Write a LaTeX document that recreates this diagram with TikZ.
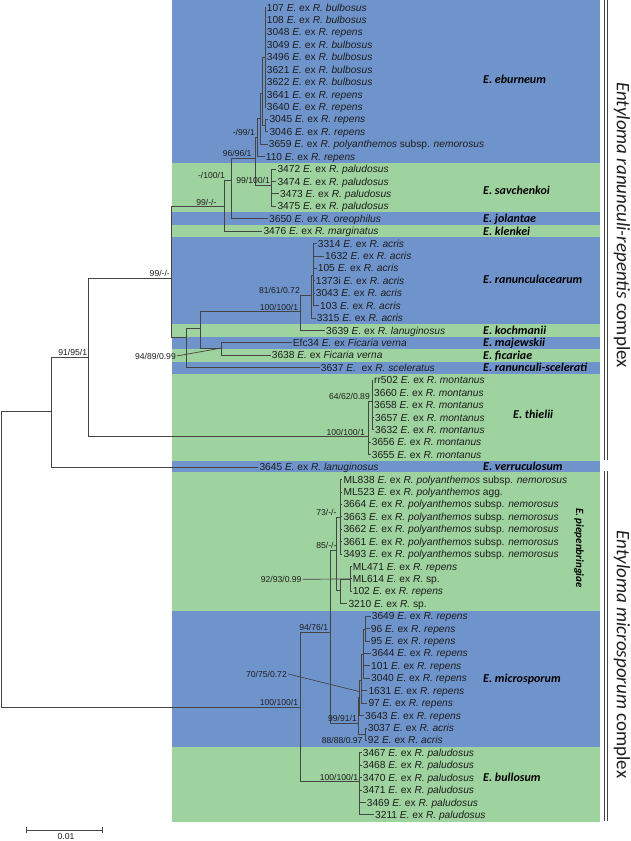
\documentclass[tikz,border=0pt]{standalone}
\usepackage{fontspec}
\setmainfont{Liberation Sans}
\newfontfamily\calib{Carlito}
\definecolor{bandblue}{HTML}{6F94CC}
\definecolor{bandgreen}{HTML}{9ED29E}
\definecolor{treeline}{HTML}{454545}
\definecolor{txt}{HTML}{1E1E1E}
\newcommand\rowy[1]{7.5+12.42*#1}
\newcommand\Rn[2]{#1 \textit{E.} ex \textit{R. #2}}
\newcommand\Pn[1]{#1 \textit{E.} ex \textit{R. polyanthemos} subsp. \textit{nemorosus}}
\newcommand\lf[5]{\node[leaf] (#1) at ({#4-1.5},{\rowy{#3}}) {#5};\draw[br] (#2 |- #1) -- (#1.west);}
\newcommand\hbr[2]{\draw[br] (#1 |- #2) -- (#2);}
\newcommand\vbr[3]{\draw[br] (#1 |- #2) -- (#1 |- #3);}
\begin{document}
\begin{tikzpicture}[x=1pt,y=-1pt,
  br/.style={draw=treeline,line width=0.7pt,line cap=rect},
  leaf/.style={anchor=west,inner sep=1.5pt,font=\fontsize{10.2}{11}\selectfont,text=txt,text height=7.8pt,text depth=0.5pt},
  sup/.style={anchor=base east,inner sep=0pt,font=\fontsize{8.6}{10}\selectfont,text=txt},
  clade/.style={anchor=west,inner sep=0pt,font=\calib\bfseries\itshape\fontsize{12}{14}\selectfont,text height=7.8pt,text depth=0pt},
  cplx/.style={rotate=-90,inner sep=0pt,font=\calib\fontsize{19}{22}\selectfont,text=txt}]
\useasboundingbox (0,0) rectangle (630,841);
\fill[white] (0,0) rectangle (630,841);
% bands
\fill[bandblue]  (172,0) rectangle (599.5,162.75);
\fill[bandgreen] (172,162.75) rectangle (599.5,212.4);
\fill[bandblue]  (172,212.4) rectangle (599.5,224.8);
\fill[bandgreen] (172,224.8) rectangle (599.5,237.3);
\fill[bandblue]  (172,237.3) rectangle (599.5,324.2);
\fill[bandgreen] (172,324.2) rectangle (599.5,336.6);
\fill[bandblue]  (172,336.6) rectangle (599.5,349);
\fill[bandgreen] (172,349) rectangle (599.5,361.5);
\fill[bandblue]  (172,361.5) rectangle (599.5,373.9);
\fill[bandgreen] (172,373.9) rectangle (599.5,460.8);
\fill[bandblue]  (172,460.8) rectangle (599.5,471.5);
\fill[bandgreen] (172,471.5) rectangle (599.5,611);
\fill[bandblue]  (172,611) rectangle (599.5,746.5);
\fill[bandgreen] (172,746.5) rectangle (599.5,821.5);
% internal nodes
\coordinate (E1) at (265,57.2);
\coordinate (E5) at (265.5,125.5);
\coordinate (E2) at (262,93.3);
\coordinate (E3) at (260,118.7);
\coordinate (B) at (257.3,137);
\coordinate (S) at (271.7,185);
\coordinate (A) at (255,158);
\coordinate (C) at (231.7,180);
\coordinate (D) at (224.3,206.7);
\coordinate (RB) at (313.5,275);
\coordinate (RA) at (311.7,295);
\coordinate (RN) at (300,311.7);
\coordinate (FI) at (221.7,348);
\coordinate (K) at (200.7,328.3);
\coordinate (L) at (186.7,337.3);
\coordinate (Z) at (171.7,278.3);
\coordinate (TI) at (372.3,401);
\coordinate (TH) at (368,436.7);
\coordinate (Y) at (88.3,357.3);
\coordinate (X) at (51.7,411);
\coordinate (O) at (1,559);
\coordinate (U) at (350,579);
\coordinate (T) at (340,590);
\coordinate (PR) at (340,517);
\coordinate (Q) at (336.7,550);
\coordinate (M4) at (365.5,629);
\coordinate (M3) at (363,654);
\coordinate (M2) at (361,680);
\coordinate (M1) at (359.5,697);
\coordinate (N) at (365,734.6);
\coordinate (M) at (358.3,723);
\coordinate (P) at (330.7,632.3);
\coordinate (W) at (359.3,781.7);
\coordinate (MC) at (300,707.3);
% leaves
\lf{l0}{E1}{0}{266.7}{\Rn{107}{bulbosus}}
\lf{l1}{E1}{1}{266.7}{\Rn{108}{bulbosus}}
\lf{l2}{E1}{2}{266.7}{\Rn{3048}{repens}}
\lf{l3}{E1}{3}{266.7}{\Rn{3049}{bulbosus}}
\lf{l4}{E1}{4}{266.7}{\Rn{3496}{bulbosus}}
\lf{l5}{E1}{5}{266.7}{\Rn{3621}{bulbosus}}
\lf{l6}{E1}{6}{266.7}{\Rn{3622}{bulbosus}}
\lf{l7}{E1}{7}{266.7}{\Rn{3641}{repens}}
\lf{l8}{E1}{8}{266.7}{\Rn{3640}{repens}}
\lf{l9}{E5}{9}{269.3}{\Rn{3045}{repens}}
\lf{l10}{E5}{10}{269.3}{\Rn{3046}{repens}}
\lf{l11}{E3}{11}{268.7}{\Pn{3659}}
\lf{l12}{B}{12}{265.7}{\Rn{110}{repens}}
\lf{l13}{S}{13}{277.3}{\Rn{3472}{paludosus}}
\lf{l14}{S}{14}{277.3}{\Rn{3474}{paludosus}}
\lf{l15}{S}{15}{280}{\Rn{3473}{paludosus}}
\lf{l16}{S}{16}{277.3}{\Rn{3475}{paludosus}}
\lf{l17}{C}{17}{269}{\Rn{3650}{oreophilus}}
\lf{l18}{D}{18}{263.3}{\Rn{3476}{marginatus}}
\lf{l19}{RB}{19}{317.7}{\Rn{3314}{acris}}
\lf{l20}{RB}{20}{325}{\Rn{1632}{acris}}
\lf{l21}{RB}{21}{317.7}{\Rn{105}{acris}}
\lf{l22}{RB}{22}{315.7}{\Rn{1373i}{acris}}
\lf{l23}{RB}{23}{315.7}{\Rn{3043}{acris}}
\lf{l24}{RB}{24}{320}{\Rn{103}{acris}}
\lf{l25}{RA}{25}{316.7}{\Rn{3315}{acris}}
\lf{l26}{RN}{26}{326}{\Rn{3639}{lanuginosus}}
\lf{l27}{FI}{27}{292.7}{Efc34 \textit{E.} ex \textit{Ficaria verna}}
\lf{l28}{FI}{28}{271.7}{3638 \textit{E.} ex \textit{Ficaria verna}}
\lf{l29}{L}{29}{320.7}{3637 \textit{E.}\ \ ex \textit{R. sceleratus}}
\lf{l30}{TI}{30}{374}{\Rn{rr502}{montanus}}
\lf{l31}{TI}{31}{374}{\Rn{3660}{montanus}}
\lf{l32}{TI}{32}{374}{\Rn{3658}{montanus}}
\lf{l33}{TI}{33}{375}{\Rn{3657}{montanus}}
\lf{l34}{TI}{34}{375}{\Rn{3632}{montanus}}
\lf{l35}{TH}{35}{371.7}{\Rn{3656}{montanus}}
\lf{l36}{TH}{36}{371.7}{\Rn{3655}{montanus}}
\lf{l37}{X}{37}{259.3}{\Rn{3645}{lanuginosus}}
\lf{l38}{PR}{38}{343.3}{\Pn{ML838}}
\lf{l39}{PR}{39}{343.3}{ML523 \textit{E.} ex \textit{R. polyanthemos} agg.}
\lf{l40}{PR}{40}{343.3}{\Pn{3664}}
\lf{l41}{PR}{41}{343.3}{\Pn{3663}}
\lf{l42}{PR}{42}{343.3}{\Pn{3662}}
\lf{l43}{PR}{43}{343.3}{\Pn{3661}}
\lf{l44}{PR}{44}{343.3}{\Pn{3493}}
\lf{l45}{U}{45}{352.7}{\Rn{ML471}{repens}}
\lf{l46}{U}{46}{352.7}{ML614 \textit{E.} ex \textit{R.} sp.}
\lf{l47}{U}{47}{352.7}{\Rn{102}{repens}}
\lf{l48}{T}{48}{348.3}{3210 \textit{E.} ex \textit{R.} sp.}
\lf{l49}{M4}{49}{371.7}{\Rn{3649}{repens}}
\lf{l50}{M4}{50}{370.7}{\Rn{96}{repens}}
\lf{l51}{M4}{51}{370.7}{\Rn{95}{repens}}
\lf{l52}{M3}{52}{371.7}{\Rn{3644}{repens}}
\lf{l53}{M3}{53}{371}{\Rn{101}{repens}}
\lf{l54}{M3}{54}{371}{\Rn{3040}{repens}}
\lf{l55}{M2}{55}{368.3}{\Rn{1631}{repens}}
\lf{l56}{M2}{56}{368.3}{\Rn{97}{repens}}
\lf{l57}{M1}{57}{365}{\Rn{3643}{repens}}
\lf{l58}{N}{58}{367.7}{\Rn{3037}{acris}}
\lf{l59}{N}{59}{367.7}{\Rn{92}{acris}}
\lf{l60}{W}{60}{362.7}{\Rn{3467}{paludosus}}
\lf{l61}{W}{61}{362.7}{\Rn{3468}{paludosus}}
\lf{l62}{W}{62}{362.7}{\Rn{3470}{paludosus}}
\lf{l63}{W}{63}{362.7}{\Rn{3471}{paludosus}}
\lf{l64}{W}{64}{366.7}{\Rn{3469}{paludosus}}
\lf{l65}{W}{65}{375}{\Rn{3211}{paludosus}}
% verticals
\vbr{E1}{l0}{l8}
\vbr{E5}{l9}{l10}
\vbr{E2}{E1}{E5}
\vbr{E3}{E2}{l11}
\vbr{B}{E3}{l12}
\vbr{A}{B}{S}
\vbr{S}{l13}{l16}
\vbr{C}{A}{l17}
\vbr{D}{C}{l18}
\vbr{Z}{D}{L}
\vbr{L}{K}{l29}
\vbr{K}{RN}{FI}
\vbr{FI}{l27}{l28}
\vbr{RN}{RA}{l26}
\vbr{RA}{RB}{l25}
\vbr{RB}{l19}{l24}
\vbr{Y}{Z}{TH}
\vbr{TH}{TI}{l36}
\vbr{TI}{l30}{l34}
\vbr{X}{Y}{l37}
\vbr{O}{X}{MC}
\vbr{MC}{P}{W}
\vbr{P}{Q}{M}
\vbr{Q}{PR}{T}
\vbr{PR}{l38}{l44}
\vbr{T}{U}{l48}
\vbr{U}{l45}{l47}
\vbr{M}{M1}{N}
\vbr{M1}{M2}{l57}
\vbr{M2}{M3}{l56}
\vbr{M3}{M4}{l54}
\vbr{M4}{l49}{l51}
\vbr{N}{l58}{l59}
\vbr{W}{l60}{l65}
% horizontal branches
\hbr{E2}{E1}\hbr{E2}{E5}\hbr{E3}{E2}\hbr{B}{E3}\hbr{A}{B}\hbr{A}{S}
\hbr{C}{A}\hbr{D}{C}\hbr{Z}{D}\hbr{Z}{L}\hbr{L}{K}\hbr{K}{RN}\hbr{K}{FI}
\hbr{RN}{RA}\hbr{RA}{RB}\hbr{Y}{Z}\hbr{Y}{TH}\hbr{TH}{TI}\hbr{X}{Y}
\hbr{O}{X}\hbr{O}{MC}\hbr{MC}{P}\hbr{MC}{W}\hbr{P}{Q}\hbr{P}{M}
\hbr{Q}{PR}\hbr{Q}{T}\hbr{T}{U}\hbr{M}{M1}\hbr{M}{N}\hbr{M1}{M2}
\hbr{M2}{M3}\hbr{M3}{M4}
% support values
\node[sup] (s1) at (255,135.5) {-/99/1};
\node[sup] (s2) at (251.7,156.5) {96/96/1};
\node[sup] (s3) at (270,183.5) {99/100/1};
\node[sup] (s4) at (225,178.5) {-/100/1};
\node[sup] (s5) at (216.7,205.2) {99/-/-};
\node[sup] (s6) at (300,293.5) {81/61/0.72};
\node[sup] (s7) at (298.3,310.2) {100/100/1};
\node[sup] (s8) at (176,359) {94/89/0.99};
\node[sup] (s9) at (170,276.8) {99/-/-};
\node[sup] (s10) at (87.3,355.8) {91/95/1};
\node[sup] (s11) at (370,399.5) {64/62/0.89};
\node[sup] (s12) at (365,435.2) {100/100/1};
\node[sup] (s13) at (336.7,515.5) {73/-/-};
\node[sup] (s14) at (336.7,548.5) {85/-/-};
\node[sup] (s15) at (301.7,582.3) {92/93/0.99};
\node[sup] (s16) at (328.3,630.8) {94/76/1};
\node[sup] (s17) at (287,677) {70/75/0.72};
\node[sup] (s18) at (298.3,705.8) {100/100/1};
\node[sup] (s19) at (357,721.5) {99/91/1};
\node[sup] (s20) at (362.7,743) {88/88/0.97};
\node[sup] (s21) at (358.3,780.2) {100/100/1};
\coordinate (p70) at (360,691.7);
\draw[br,line cap=butt] ([xshift=1pt]s8.east) -- (FI);
\draw[br,line cap=butt] ([xshift=1pt]s15.east) -- (U);
\draw[br,line cap=butt] ([xshift=1pt]s17.east) -- (p70);
% clade names
\node[clade] (c1) at (483,79.5) {E. eburneum};
\node[clade] (c2) at (483,190.5) {E. savchenkoi};
\node[clade] (c3) at (483,218.6) {E. jolantae};
\node[clade] (c4) at (483,231.1) {E. klenkei};
\node[clade] (c5) at (483,279.5) {E. ranunculacearum};
\node[clade] (c6) at (483,330.4) {E. kochmanii};
\node[clade] (c7) at (483,342.8) {E. majewskii};
\node[clade] (c8) at (483,355.3) {E. ficariae};
\node[clade] (c9) at (483,367.7) {E. ranunculi-scelerati};
\node[clade] (c10) at (513,415) {E. thielii};
\node[clade] (c11) at (483,467) {E. verruculosum};
\node[clade,anchor=center,rotate=-90,font=\calib\bfseries\itshape\fontsize{11}{13}\selectfont] (c12) at (580,548) {E. piepenbringiae};
\node[clade] (c13) at (483,678.2) {E. microsporum};
\node[clade] (c14) at (483,777.5) {E. bullosum};
% complex brackets
\coordinate (bu1) at (604,0); \coordinate (bu2) at (604,460);
\coordinate (bu3) at (607.5,0); \coordinate (bu4) at (607.5,460);
\coordinate (bl1) at (604,471); \coordinate (bl2) at (604,821);
\coordinate (bl3) at (607.5,471); \coordinate (bl4) at (607.5,821);
\draw[br,line cap=butt] (bu1) -- (bu2); \draw[br,line cap=butt] (bu3) -- (bu4);
\draw[br,line cap=butt] (bl1) -- (bl2); \draw[br,line cap=butt] (bl3) -- (bl4);
\node[cplx] (cx1) at (622,225) {\textit{Entyloma ranunculi-repentis} complex};
\node[cplx] (cx2) at (622,654.5) {\textit{Entyloma microsporum} complex};
% scale bar
\coordinate (sb1) at (26,830); \coordinate (sb2) at (102.7,830);
\draw[br,line cap=butt] (sb1) -- (sb2);
\draw[br,line cap=butt] ([yshift=-3pt]sb1) -- ([yshift=3pt]sb1);
\draw[br,line cap=butt] ([yshift=-3pt]sb2) -- ([yshift=3pt]sb2);
\node[sup,anchor=center] (sbl) at (66,837) {0.01};
\end{tikzpicture}
\end{document}
